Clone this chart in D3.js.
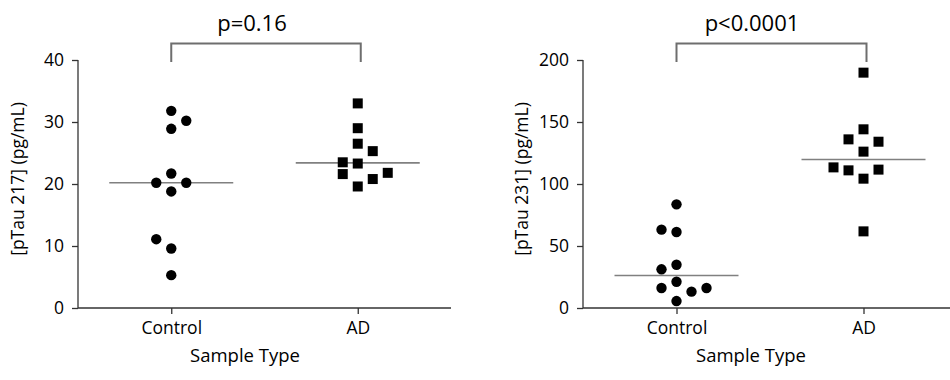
<!DOCTYPE html>
<html>
<head>
<meta charset="utf-8">
<script src="https://cdn.jsdelivr.net/npm/d3@7/dist/d3.min.js"></script>
<style>
  html, body { margin: 0; padding: 0; background: #fff; }
  svg { display: block; }
  text { font-family: "Open Sans", "Noto Sans", sans-serif; fill: #000; }
</style>
</head>
<body>
<svg id="chart" width="950" height="380"></svg>
<script>
// ---------- data ----------
const categories = ["Control", "AD"];

const tau217Control = [31.8, 30.2, 28.9, 21.7, 20.2, 20.2, 18.8, 11.1, 9.6, 5.3];
const tau217ControlCol = [0, 1, 0, 0, -1, 1, 0, -1, 0, 0];
const tau217AD = [33.0, 29.0, 26.5, 25.3, 23.5, 23.3, 21.6, 20.8, 21.8, 19.6];
const tau217ADCol = [0, 0, 0, 1, -1, 0, -1, 1, 2, 0];

const tau231Control = [83.6, 63.2, 61.3, 34.9, 31.2, 21.2, 16.1, 16.1, 13.2, 5.6];
const tau231ControlCol = [0, -1, 0, 0, -1, 0, -1, 2, 1, 0];
const tau231AD = [189.8, 144.1, 136.0, 134.1, 126.1, 113.4, 111.0, 111.6, 104.3, 61.8];
const tau231ADCol = [0, 0, -1, 1, 0, -2, -1, 1, 0, 0];

const ticks217 = [0, 10, 20, 30, 40];
const ticks231 = [0, 50, 100, 150, 200];

const panels = [
  { yLabel: "[pTau 217] (pg/mL)", pText: "p=0.16", yMax: 40, ticks: ticks217,
    control: tau217Control, controlCol: tau217ControlCol, ad: tau217AD, adCol: tau217ADCol,
    x0: 78, x1: 451, yLabelX: 24, titleX: 245, pX: 252 },
  { yLabel: "[pTau 231] (pg/mL)", pText: "p<0.0001", yMax: 200, ticks: ticks231,
    control: tau231Control, controlCol: tau231ControlCol, ad: tau231AD, adCol: tau231ADCol,
    x0: 583, x1: 957, yLabelX: 528, titleX: 751, pX: 752 }
];

// ---------- drawing ----------
const svg = d3.select("#chart");
const yTop = 60, yBottom = 308;
const colStep = 15;
const medianHalf = 62;
const r = 5.2, sq = 10;

panels.forEach(p => {
  const g = svg.append("g");
  const y = d3.scaleLinear().domain([0, p.yMax]).range([yBottom, yTop]);
  const x = d3.scalePoint().domain(categories).range([p.x0, p.x1]).padding(0.5);

  // y axis
  const yAxis = g.append("g").attr("transform", `translate(${p.x0},0)`)
    .call(d3.axisLeft(y).tickValues(p.ticks).tickSize(6).tickPadding(8).tickFormat(d3.format("d")));
  yAxis.select(".domain").attr("d", `M-0,${yTop}V${yBottom}`).attr("stroke", "#333").attr("stroke-width", 1.3);
  yAxis.selectAll(".tick line").attr("stroke", "#333").attr("stroke-width", 1.3);
  yAxis.selectAll(".tick text").attr("font-size", 17.5).attr("font-family", "Open Sans").attr("fill", "#000");

  // x axis
  const xAxis = g.append("g").attr("transform", `translate(0,${yBottom})`)
    .call(d3.axisBottom(x).tickSize(6).tickPadding(8));
  xAxis.select(".domain").attr("d", `M${p.x0},0H${p.x1}`).attr("stroke", "#333").attr("stroke-width", 1.3);
  xAxis.selectAll(".tick line").attr("stroke", "#333").attr("stroke-width", 1.3);
  xAxis.selectAll(".tick text").attr("font-size", 17.5).attr("font-family", "Open Sans").attr("fill", "#000");

  // axis titles
  g.append("text").attr("x", p.titleX).attr("y", 362).attr("text-anchor", "middle")
    .attr("font-size", 18.5).text("Sample Type");
  g.append("text").attr("transform", `translate(${p.yLabelX},${(yTop + yBottom) / 2 - 5}) rotate(-90)`)
    .attr("text-anchor", "middle").attr("font-size", 17.5).text(p.yLabel);

  // medians
  const groups = [
    { cat: "Control", vals: p.control, cols: p.controlCol },
    { cat: "AD", vals: p.ad, cols: p.adCol }
  ];
  groups.forEach(gr => {
    const m = d3.median(gr.vals);
    g.append("line")
      .attr("x1", x(gr.cat) - medianHalf).attr("x2", x(gr.cat) + medianHalf)
      .attr("y1", y(m)).attr("y2", y(m))
      .attr("stroke", "#808080").attr("stroke-width", 1.6);
  });

  // points
  g.selectAll("circle.pt").data(p.control).enter().append("circle")
    .attr("class", "pt")
    .attr("cx", (d, i) => x("Control") + p.controlCol[i] * colStep)
    .attr("cy", d => y(d)).attr("r", r).attr("fill", "#000");
  g.selectAll("rect.pt").data(p.ad).enter().append("rect")
    .attr("class", "pt")
    .attr("x", (d, i) => x("AD") + p.adCol[i] * colStep - sq / 2)
    .attr("y", d => y(d) - sq / 2).attr("width", sq).attr("height", sq).attr("fill", "#000");

  // significance bracket
  const bx1 = x("Control"), bx2 = x("AD") + 3;
  g.append("path").attr("d", `M${bx1},62V43.5H${bx2}V62`)
    .attr("fill", "none").attr("stroke", "#6e6e6e").attr("stroke-width", 2);
  g.append("text").attr("x", p.pX).attr("y", 31).attr("text-anchor", "middle")
    .attr("font-size", 22).text(p.pText);
});
</script>
</body>
</html>
